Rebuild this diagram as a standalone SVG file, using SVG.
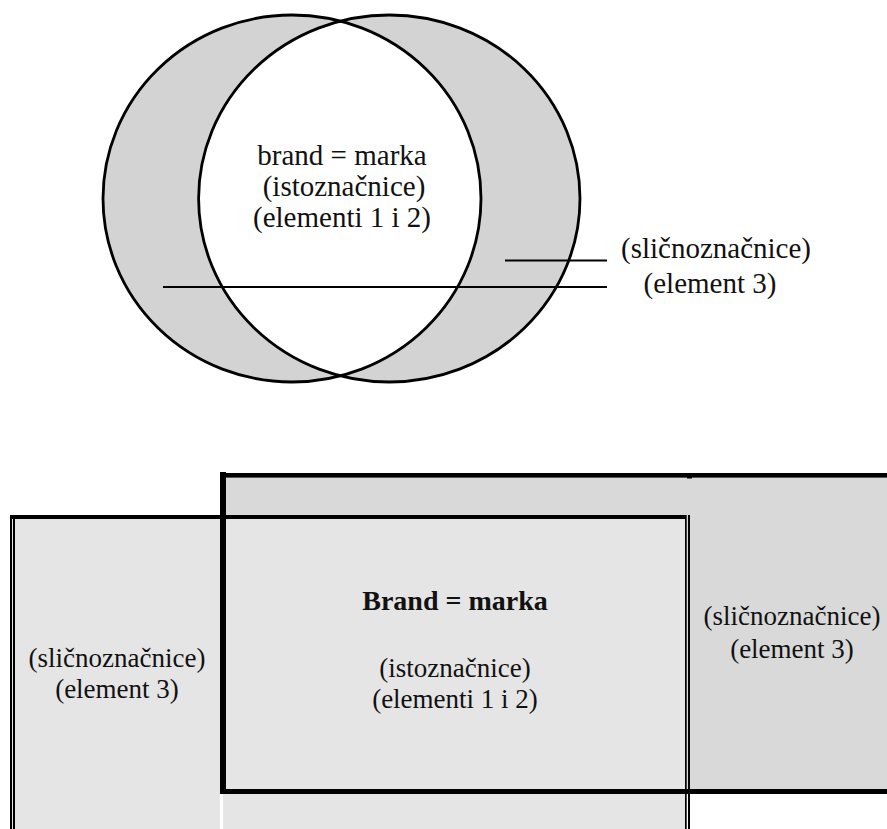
<svg xmlns="http://www.w3.org/2000/svg" width="887" height="829" viewBox="0 0 887 829">
<style>
text{font-family:'Liberation Serif','Tinos','Times New Roman','DejaVu Serif',serif;fill:#111;text-anchor:middle}
.t{font-size:29px}
.b{font-size:27px}
.bold{font-weight:bold;font-size:28px}
.ell{fill:none;stroke:#000;stroke-width:2.8}
.blk{fill:#000}
</style>
<defs>
<clipPath id="clipL"><ellipse cx="292" cy="198.5" rx="189" ry="183.5"/></clipPath>
</defs>
<rect width="887" height="829" fill="#fff"/>

<g id="venn-left">
<ellipse cx="292" cy="198.5" rx="189" ry="183.5" fill="#d3d3d3"/>
</g>
<g id="venn-right">
<ellipse cx="389.3" cy="198.5" rx="190.7" ry="183.5" fill="#d3d3d3"/>
</g>
<g id="venn-intersection">
<ellipse cx="389.3" cy="198.5" rx="190.7" ry="183.5" fill="#fff" clip-path="url(#clipL)"/>
<ellipse class="ell" cx="292" cy="198.5" rx="189" ry="183.5"/>
<ellipse class="ell" cx="389.3" cy="198.5" rx="190.7" ry="183.5"/>
<text class="t" x="342" y="165">brand = marka</text>
<text class="t" x="344" y="196">(istoznačnice)</text>
<text class="t" x="342" y="227">(elementi 1 i 2)</text>
</g>
<g id="venn-label">
<text class="t" x="716" y="258">(sličnoznačnice)</text>
<text class="t" x="710" y="293">(element 3)</text>
</g>
<g id="connectors" stroke="#000" stroke-width="2.2">
<line x1="505" y1="260.5" x2="607" y2="260.5"/>
<line x1="163" y1="287" x2="607" y2="287"/>
</g>

<g id="right-column">
<rect x="220" y="473" width="667" height="321" fill="#d9d9d9"/>
<text class="b" x="792" y="625">(sličnoznačnice)</text>
<text class="b" x="792" y="658">(element 3)</text>
</g>
<g id="left-column">
<rect x="12" y="517" width="208" height="312" fill="#e5e5e5"/>
<rect class="blk" x="10" y="515" width="2" height="314"/>
<rect class="blk" x="13" y="515" width="2" height="314"/>
<text class="b" x="117" y="667">(sličnoznačnice)</text>
<text class="b" x="117" y="698">(element 3)</text>
</g>
<g id="center-box">
<rect x="223" y="517" width="463" height="312" fill="#e5e5e5"/>
<rect class="blk" x="220" y="473" width="667" height="4.6"/>
<rect class="blk" x="220" y="472" width="6" height="322"/>
<rect class="blk" x="10" y="515" width="676" height="4"/>
<rect class="blk" x="685" y="515" width="1.7" height="314"/>
<rect class="blk" x="688" y="515" width="2" height="314"/>
<rect class="blk" x="220" y="789" width="667" height="5"/>
<rect class="blk" x="687" y="477" width="5" height="1.5"/>
<text class="b bold" x="455" y="610">Brand = marka</text>
<text class="b" x="455" y="677">(istoznačnice)</text>
<text class="b" x="455" y="708">(elementi 1 i 2)</text>
</g>
</svg>
